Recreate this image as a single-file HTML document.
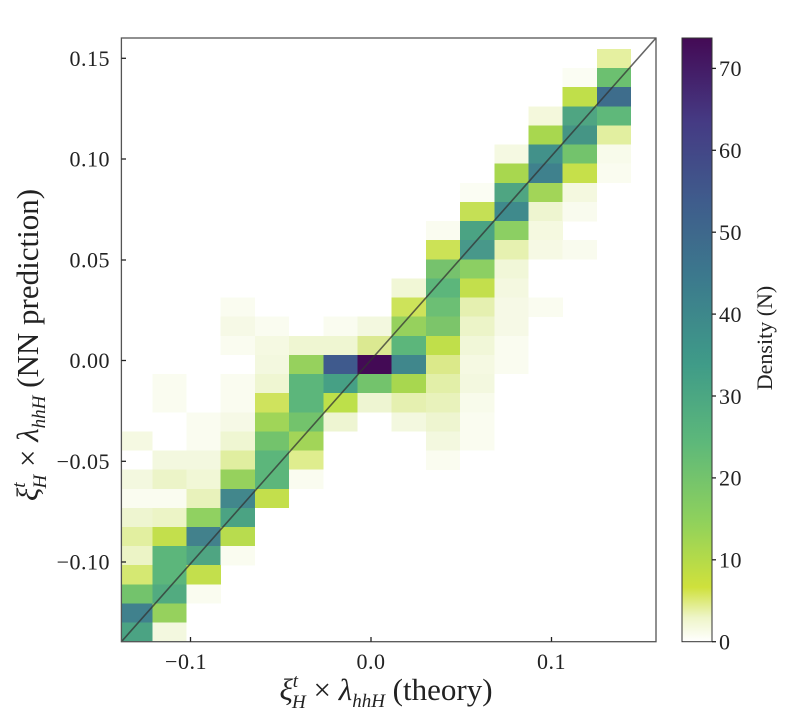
<!DOCTYPE html>
<html><head><meta charset="utf-8"><style>
html,body{margin:0;padding:0;background:#fff;}
svg{display:block;font-family:"Liberation Serif",serif;}
</style></head><body>
<svg width="800" height="723" viewBox="0 0 800 723" xmlns="http://www.w3.org/2000/svg">
<defs>
<clipPath id="cp"><rect x="121.4" y="38" width="534.6" height="603.7"/></clipPath>
<linearGradient id="vir" x1="0" y1="1" x2="0" y2="0">
<stop offset="0" stop-color="#ffffff"/>
<stop offset="0.04" stop-color="#eef5c8"/>
<stop offset="0.09" stop-color="#cfe13c"/>
<stop offset="0.2" stop-color="#8fd15c"/>
<stop offset="0.33" stop-color="#5db87a"/>
<stop offset="0.46" stop-color="#3f9b88"/>
<stop offset="0.6" stop-color="#3c7a8d"/>
<stop offset="0.73" stop-color="#3f5c8c"/>
<stop offset="0.86" stop-color="#453b84"/>
<stop offset="1" stop-color="#440a55"/>
</linearGradient>
</defs>
<g clip-path="url(#cp)" shape-rendering="crispEdges">
<rect x="596.9" y="49" width="34.3" height="19.3" fill="#e5f0a0"/>
<rect x="562.7" y="68.1" width="34.3" height="19.3" fill="#fbfdf3"/>
<rect x="596.9" y="68.1" width="34.3" height="19.3" fill="#6cc070"/>
<rect x="562.7" y="87.2" width="34.3" height="19.3" fill="#c0df4a"/>
<rect x="596.9" y="87.2" width="34.3" height="19.3" fill="#3e6d8c"/>
<rect x="528.5" y="106.4" width="34.3" height="19.3" fill="#f4f8dc"/>
<rect x="562.7" y="106.4" width="34.3" height="19.3" fill="#4fa582"/>
<rect x="596.9" y="106.4" width="34.3" height="19.3" fill="#5fb87a"/>
<rect x="528.5" y="125.5" width="34.3" height="19.3" fill="#a8d74f"/>
<rect x="562.7" y="125.5" width="34.3" height="19.3" fill="#459585"/>
<rect x="596.9" y="125.5" width="34.3" height="19.3" fill="#e2efa0"/>
<rect x="494.3" y="144.6" width="34.3" height="19.3" fill="#f5f9e2"/>
<rect x="528.5" y="144.6" width="34.3" height="19.3" fill="#42918a"/>
<rect x="562.7" y="144.6" width="34.3" height="19.3" fill="#73c36c"/>
<rect x="596.9" y="144.6" width="34.3" height="19.3" fill="#f8fbeb"/>
<rect x="494.3" y="163.7" width="34.3" height="19.3" fill="#a8d74f"/>
<rect x="528.5" y="163.7" width="34.3" height="19.3" fill="#3f818d"/>
<rect x="562.7" y="163.7" width="34.3" height="19.3" fill="#c6e04a"/>
<rect x="596.9" y="163.7" width="34.3" height="19.3" fill="#fafcf0"/>
<rect x="460.1" y="182.8" width="34.3" height="19.3" fill="#fbfdf3"/>
<rect x="494.3" y="182.8" width="34.3" height="19.3" fill="#4fa582"/>
<rect x="528.5" y="182.8" width="34.3" height="19.3" fill="#a2d558"/>
<rect x="562.7" y="182.8" width="34.3" height="19.3" fill="#f4f8df"/>
<rect x="460.1" y="202" width="34.3" height="19.3" fill="#c5e055"/>
<rect x="494.3" y="202" width="34.3" height="19.3" fill="#3f8a8c"/>
<rect x="528.5" y="202" width="34.3" height="19.3" fill="#eef5d0"/>
<rect x="562.7" y="202" width="34.3" height="19.3" fill="#f9fbee"/>
<rect x="425.9" y="221.1" width="34.3" height="19.3" fill="#fafcf0"/>
<rect x="460.1" y="221.1" width="34.3" height="19.3" fill="#4ba383"/>
<rect x="494.3" y="221.1" width="34.3" height="19.3" fill="#8ccf63"/>
<rect x="528.5" y="221.1" width="34.3" height="19.3" fill="#f5f9e0"/>
<rect x="425.9" y="240.2" width="34.3" height="19.3" fill="#cce256"/>
<rect x="460.1" y="240.2" width="34.3" height="19.3" fill="#48988a"/>
<rect x="494.3" y="240.2" width="34.3" height="19.3" fill="#e6f1b0"/>
<rect x="528.5" y="240.2" width="34.3" height="19.3" fill="#f6f9e4"/>
<rect x="562.7" y="240.2" width="34.3" height="19.3" fill="#f9fbee"/>
<rect x="425.9" y="259.3" width="34.3" height="19.3" fill="#76c26d"/>
<rect x="460.1" y="259.3" width="34.3" height="19.3" fill="#8ccf63"/>
<rect x="494.3" y="259.3" width="34.3" height="19.3" fill="#f1f7d8"/>
<rect x="391.7" y="278.4" width="34.3" height="19.3" fill="#f1f7d6"/>
<rect x="425.9" y="278.4" width="34.3" height="19.3" fill="#5cb67b"/>
<rect x="460.1" y="278.4" width="34.3" height="19.3" fill="#c3df4c"/>
<rect x="494.3" y="278.4" width="34.3" height="19.3" fill="#f4f8e0"/>
<rect x="220.7" y="297.6" width="34.3" height="19.3" fill="#fafcf0"/>
<rect x="391.7" y="297.6" width="34.3" height="19.3" fill="#cde35a"/>
<rect x="425.9" y="297.6" width="34.3" height="19.3" fill="#6cbf74"/>
<rect x="460.1" y="297.6" width="34.3" height="19.3" fill="#e5f0b0"/>
<rect x="494.3" y="297.6" width="34.3" height="19.3" fill="#f6f9e6"/>
<rect x="528.5" y="297.6" width="34.3" height="19.3" fill="#fafcf0"/>
<rect x="220.7" y="316.7" width="34.3" height="19.3" fill="#f6f9e6"/>
<rect x="254.9" y="316.7" width="34.3" height="19.3" fill="#fafcf0"/>
<rect x="323.3" y="316.7" width="34.3" height="19.3" fill="#fafcf0"/>
<rect x="357.5" y="316.7" width="34.3" height="19.3" fill="#f3f8df"/>
<rect x="391.7" y="316.7" width="34.3" height="19.3" fill="#96d15d"/>
<rect x="425.9" y="316.7" width="34.3" height="19.3" fill="#7cc56a"/>
<rect x="460.1" y="316.7" width="34.3" height="19.3" fill="#ecf4c8"/>
<rect x="494.3" y="316.7" width="34.3" height="19.3" fill="#f6f9e6"/>
<rect x="220.7" y="335.8" width="34.3" height="19.3" fill="#fafcf0"/>
<rect x="254.9" y="335.8" width="34.3" height="19.3" fill="#f5f9e2"/>
<rect x="289.1" y="335.8" width="34.3" height="19.3" fill="#eff6d2"/>
<rect x="323.3" y="335.8" width="34.3" height="19.3" fill="#eff6d2"/>
<rect x="357.5" y="335.8" width="34.3" height="19.3" fill="#dbe991"/>
<rect x="391.7" y="335.8" width="34.3" height="19.3" fill="#5cb67b"/>
<rect x="425.9" y="335.8" width="34.3" height="19.3" fill="#c0df4a"/>
<rect x="460.1" y="335.8" width="34.3" height="19.3" fill="#f1f7d8"/>
<rect x="494.3" y="335.8" width="34.3" height="19.3" fill="#fafcf0"/>
<rect x="254.9" y="354.9" width="34.3" height="19.3" fill="#f3f8df"/>
<rect x="289.1" y="354.9" width="34.3" height="19.3" fill="#96d15d"/>
<rect x="323.3" y="354.9" width="34.3" height="19.3" fill="#3f5a8d"/>
<rect x="357.5" y="354.9" width="34.3" height="19.3" fill="#430a55"/>
<rect x="391.7" y="354.9" width="34.3" height="19.3" fill="#40878c"/>
<rect x="425.9" y="354.9" width="34.3" height="19.3" fill="#dbe98a"/>
<rect x="460.1" y="354.9" width="34.3" height="19.3" fill="#f5f9e2"/>
<rect x="494.3" y="354.9" width="34.3" height="19.3" fill="#fafcf0"/>
<rect x="152.3" y="374" width="34.3" height="19.3" fill="#fafcf0"/>
<rect x="220.7" y="374" width="34.3" height="19.3" fill="#fafcf0"/>
<rect x="254.9" y="374" width="34.3" height="19.3" fill="#eff6d2"/>
<rect x="289.1" y="374" width="34.3" height="19.3" fill="#5cb67b"/>
<rect x="323.3" y="374" width="34.3" height="19.3" fill="#46a085"/>
<rect x="357.5" y="374" width="34.3" height="19.3" fill="#73c36c"/>
<rect x="391.7" y="374" width="34.3" height="19.3" fill="#a8d74f"/>
<rect x="425.9" y="374" width="34.3" height="19.3" fill="#e2efa8"/>
<rect x="460.1" y="374" width="34.3" height="19.3" fill="#f3f8df"/>
<rect x="152.3" y="393.2" width="34.3" height="19.3" fill="#fafcf0"/>
<rect x="220.7" y="393.2" width="34.3" height="19.3" fill="#fafcf0"/>
<rect x="254.9" y="393.2" width="34.3" height="19.3" fill="#cfe35d"/>
<rect x="289.1" y="393.2" width="34.3" height="19.3" fill="#5cb67b"/>
<rect x="323.3" y="393.2" width="34.3" height="19.3" fill="#bde04a"/>
<rect x="357.5" y="393.2" width="34.3" height="19.3" fill="#eef5d2"/>
<rect x="391.7" y="393.2" width="34.3" height="19.3" fill="#e5f0b0"/>
<rect x="425.9" y="393.2" width="34.3" height="19.3" fill="#e8f2bb"/>
<rect x="460.1" y="393.2" width="34.3" height="19.3" fill="#f8fbeb"/>
<rect x="186.5" y="412.3" width="34.3" height="19.3" fill="#fafcf0"/>
<rect x="220.7" y="412.3" width="34.3" height="19.3" fill="#f6f9e6"/>
<rect x="254.9" y="412.3" width="34.3" height="19.3" fill="#a0d558"/>
<rect x="289.1" y="412.3" width="34.3" height="19.3" fill="#73c36c"/>
<rect x="323.3" y="412.3" width="34.3" height="19.3" fill="#eef5d2"/>
<rect x="391.7" y="412.3" width="34.3" height="19.3" fill="#f3f8df"/>
<rect x="425.9" y="412.3" width="34.3" height="19.3" fill="#eef5d0"/>
<rect x="460.1" y="412.3" width="34.3" height="19.3" fill="#fafcf0"/>
<rect x="118.1" y="431.4" width="34.3" height="19.3" fill="#f5f9e2"/>
<rect x="186.5" y="431.4" width="34.3" height="19.3" fill="#fafcf0"/>
<rect x="220.7" y="431.4" width="34.3" height="19.3" fill="#eff6d2"/>
<rect x="254.9" y="431.4" width="34.3" height="19.3" fill="#73c36c"/>
<rect x="289.1" y="431.4" width="34.3" height="19.3" fill="#a2d558"/>
<rect x="425.9" y="431.4" width="34.3" height="19.3" fill="#f3f8df"/>
<rect x="460.1" y="431.4" width="34.3" height="19.3" fill="#fafcf0"/>
<rect x="152.3" y="450.5" width="34.3" height="19.3" fill="#f3f8df"/>
<rect x="186.5" y="450.5" width="34.3" height="19.3" fill="#f3f8df"/>
<rect x="220.7" y="450.5" width="34.3" height="19.3" fill="#e0eea0"/>
<rect x="254.9" y="450.5" width="34.3" height="19.3" fill="#5cb67b"/>
<rect x="289.1" y="450.5" width="34.3" height="19.3" fill="#dfed8e"/>
<rect x="425.9" y="450.5" width="34.3" height="19.3" fill="#fafcf0"/>
<rect x="118.1" y="469.6" width="34.3" height="19.3" fill="#f3f8df"/>
<rect x="152.3" y="469.6" width="34.3" height="19.3" fill="#ecf4c8"/>
<rect x="186.5" y="469.6" width="34.3" height="19.3" fill="#f1f7d6"/>
<rect x="220.7" y="469.6" width="34.3" height="19.3" fill="#96d15d"/>
<rect x="254.9" y="469.6" width="34.3" height="19.3" fill="#5cb67b"/>
<rect x="289.1" y="469.6" width="34.3" height="19.3" fill="#fafcf0"/>
<rect x="118.1" y="488.8" width="34.3" height="19.3" fill="#fafcf0"/>
<rect x="152.3" y="488.8" width="34.3" height="19.3" fill="#fafcf0"/>
<rect x="186.5" y="488.8" width="34.3" height="19.3" fill="#e8f2bb"/>
<rect x="220.7" y="488.8" width="34.3" height="19.3" fill="#42878c"/>
<rect x="254.9" y="488.8" width="34.3" height="19.3" fill="#c3df4c"/>
<rect x="118.1" y="507.9" width="34.3" height="19.3" fill="#eef5d0"/>
<rect x="152.3" y="507.9" width="34.3" height="19.3" fill="#ecf4c6"/>
<rect x="186.5" y="507.9" width="34.3" height="19.3" fill="#90d161"/>
<rect x="220.7" y="507.9" width="34.3" height="19.3" fill="#4ba383"/>
<rect x="118.1" y="527" width="34.3" height="19.3" fill="#e2efa0"/>
<rect x="152.3" y="527" width="34.3" height="19.3" fill="#c3df4c"/>
<rect x="186.5" y="527" width="34.3" height="19.3" fill="#42818c"/>
<rect x="220.7" y="527" width="34.3" height="19.3" fill="#b8dc4e"/>
<rect x="118.1" y="546.1" width="34.3" height="19.3" fill="#ecf4c6"/>
<rect x="152.3" y="546.1" width="34.3" height="19.3" fill="#5cb67b"/>
<rect x="186.5" y="546.1" width="34.3" height="19.3" fill="#4fa582"/>
<rect x="220.7" y="546.1" width="34.3" height="19.3" fill="#fafcf0"/>
<rect x="118.1" y="565.2" width="34.3" height="19.3" fill="#d5e872"/>
<rect x="152.3" y="565.2" width="34.3" height="19.3" fill="#5cb67b"/>
<rect x="186.5" y="565.2" width="34.3" height="19.3" fill="#c3df4c"/>
<rect x="118.1" y="584.4" width="34.3" height="19.3" fill="#73c36c"/>
<rect x="152.3" y="584.4" width="34.3" height="19.3" fill="#52ab80"/>
<rect x="186.5" y="584.4" width="34.3" height="19.3" fill="#fafcf0"/>
<rect x="118.1" y="603.5" width="34.3" height="19.3" fill="#40818d"/>
<rect x="152.3" y="603.5" width="34.3" height="19.3" fill="#96d15d"/>
<rect x="118.1" y="622.6" width="34.3" height="19.3" fill="#4ba383"/>
<rect x="152.3" y="622.6" width="34.3" height="19.3" fill="#f3f8df"/>
</g>
<line x1="121.4" y1="641.7" x2="656" y2="38" stroke="#333" stroke-opacity="0.75" stroke-width="1.6"/>
<rect x="121.4" y="38" width="534.6" height="603.7" fill="none" stroke="#555" stroke-width="1.3"/>
<g stroke="#222" stroke-width="1.3">
<line x1="121.4" y1="58.3" x2="126" y2="58.3"/>
<line x1="121.4" y1="159" x2="126" y2="159"/>
<line x1="121.4" y1="260" x2="126" y2="260"/>
<line x1="121.4" y1="360.5" x2="126" y2="360.5"/>
<line x1="121.4" y1="461.3" x2="126" y2="461.3"/>
<line x1="121.4" y1="562" x2="126" y2="562"/>
<line x1="190.5" y1="641.7" x2="190.5" y2="637"/>
<line x1="371" y1="641.7" x2="371" y2="637"/>
<line x1="551.5" y1="641.7" x2="551.5" y2="637"/>
</g>
<g font-size="22" fill="#222" text-anchor="end" letter-spacing="0.5">
<text x="110" y="66">0.15</text>
<text x="110" y="166.5">0.10</text>
<text x="110" y="267.5">0.05</text>
<text x="110" y="368">0.00</text>
<text x="110" y="469">−0.05</text>
<text x="110" y="569.5">−0.10</text>
</g>
<g font-size="22" fill="#222" text-anchor="middle" letter-spacing="0.5">
<text x="186" y="669">−0.1</text>
<text x="371" y="669">0.0</text>
<text x="551.5" y="669">0.1</text>
</g>
<text x="386" y="700" font-size="31" fill="#222" text-anchor="middle"><tspan font-style="italic">ξ</tspan><tspan font-size="19" font-style="italic" dy="-13">t</tspan><tspan font-size="19" font-style="italic" dx="-6" dy="21">H</tspan><tspan dy="-8"> × </tspan><tspan font-style="italic">λ</tspan><tspan font-size="19" font-style="italic" dy="7">hhH</tspan><tspan dy="-7"> (theory)</tspan></text>
<text transform="translate(38,345) rotate(-90)" font-size="31" fill="#222" text-anchor="middle"><tspan font-style="italic">ξ</tspan><tspan font-size="19" font-style="italic" dy="-13">t</tspan><tspan font-size="19" font-style="italic" dx="-6" dy="21">H</tspan><tspan dy="-8"> × </tspan><tspan font-style="italic">λ</tspan><tspan font-size="19" font-style="italic" dy="7">hhH</tspan><tspan dy="-7"> (NN prediction)</tspan></text>
<rect x="682" y="38" width="30" height="603.7" fill="url(#vir)" stroke="#333" stroke-width="1"/>
<g stroke="#222" stroke-width="1.3">
<line x1="712" y1="641.7" x2="716" y2="641.7"/>
<line x1="712" y1="559.8" x2="716" y2="559.8"/>
<line x1="712" y1="477.9" x2="716" y2="477.9"/>
<line x1="712" y1="396" x2="716" y2="396"/>
<line x1="712" y1="314.1" x2="716" y2="314.1"/>
<line x1="712" y1="232.2" x2="716" y2="232.2"/>
<line x1="712" y1="150.3" x2="716" y2="150.3"/>
<line x1="712" y1="68.4" x2="716" y2="68.4"/>
</g>
<g font-size="22" fill="#222" letter-spacing="0.5">
<text x="719" y="649.5">0</text>
<text x="719" y="567.6">10</text>
<text x="719" y="485.7">20</text>
<text x="719" y="403.8">30</text>
<text x="719" y="321.9">40</text>
<text x="719" y="240">50</text>
<text x="719" y="158.1">60</text>
<text x="719" y="76.2">70</text>
</g>
<text transform="translate(772,338) rotate(-90)" font-size="22" fill="#222" text-anchor="middle">Density (N)</text>
</svg>
</body></html>
